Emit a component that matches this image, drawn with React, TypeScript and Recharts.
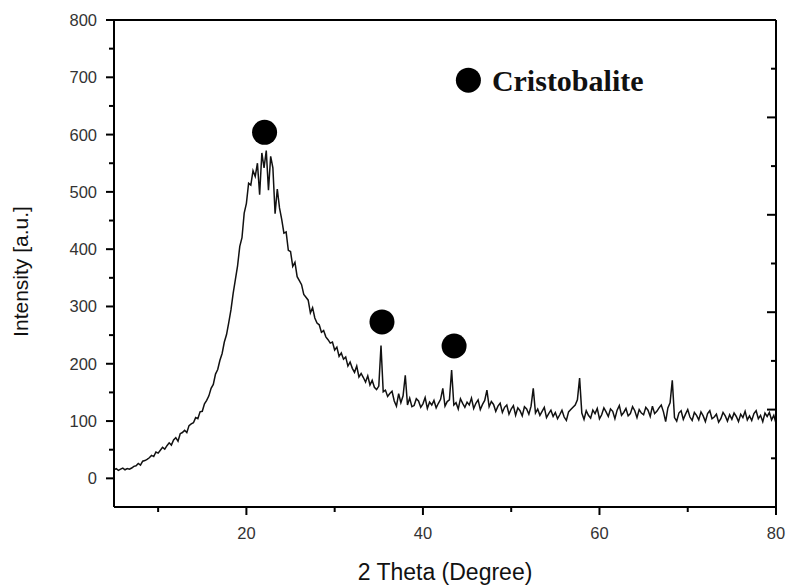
import {
  ComposedChart,
  Line,
  Scatter,
  XAxis,
  YAxis,
  ReferenceDot,
} from "recharts";

// XRD scan, 5–80° 2θ, every 0.25°
const thetaStart = 5;
const thetaStep = 0.25;
const intensity = [
  15, 17, 14, 16, 18, 15, 17, 16,
  18, 21, 22, 26, 23, 30, 31, 33,
  36, 40, 38, 46, 44, 49, 54, 51,
  57, 62, 58, 67, 71, 65, 78, 80,
  84, 80, 92, 95, 97, 106, 104, 116,
  117, 130, 136, 144, 157, 164, 182, 190,
  206, 218, 238, 251, 272, 294, 323, 347,
  371, 405, 420, 463, 480, 515, 512, 537,
  527, 550, 495, 568, 542, 572, 503, 562,
  542, 462, 505, 472, 452, 428, 430, 398,
  396, 370, 377, 352, 345, 338, 321, 316,
  311, 289, 298, 280, 271, 268, 255, 258,
  247, 242, 236, 238, 224, 229, 213, 219,
  208, 212, 196, 203, 192, 185, 196, 177,
  183, 176, 168, 179, 163, 171, 159, 155,
  161, 232, 151, 154, 143, 148, 152, 135,
  126, 148, 132, 144, 180, 128, 140, 125,
  127, 139, 135, 124, 130, 141, 122, 133,
  128, 136, 123, 131, 138, 157, 126, 134,
  137, 189, 128, 132, 121, 139, 131, 124,
  133, 128, 140, 122, 131, 137, 120, 129,
  136, 154, 125, 134, 129, 117, 126, 131,
  115, 124, 128, 112, 121, 127, 110, 123,
  118, 109, 125, 121, 112, 126, 157, 114,
  121, 110, 117, 124, 106, 113, 119, 108,
  115, 104, 111, 119, 107, 101, 116, 120,
  124, 128, 137, 175, 114, 103, 118, 110,
  105, 119, 113, 122, 104, 111, 123, 116,
  108, 121, 117, 104, 119, 127, 110, 115,
  122, 109, 113, 125, 118, 106, 120, 114,
  111, 124, 119, 108, 126, 113, 117, 123,
  128, 116, 99, 123, 132, 171, 106, 100,
  114, 118, 103, 112, 120, 107, 101, 115,
  110, 102, 116, 109, 99, 113, 118, 104,
  107, 112, 98, 104, 115, 109, 100, 111,
  103, 114, 108, 99, 112, 106, 117, 102,
  109, 101, 113, 118, 104, 110, 99, 114,
  108, 115, 102, 110, 96,
];

// cristobalite peak markers
const markerTheta = [22.06, 35.36, 43.53];
const markerIntensity = [604, 273, 231];
const legendTheta = 45.15;
const legendIntensity = 695;
const legendLabel = "Cristobalite";

const xBottomTicks = [10, 20, 30, 40, 50, 60, 70, 80];
const xTopTicks = [5, 12.5, 20, 27.5, 35, 42.5, 50, 57.5, 65, 72.5, 80];
const yLeftTicks = [0, 50, 100, 150, 200, 250, 300, 350, 400, 450, 500, 550, 600, 650, 700, 750, 800];
const yRightTicks = [-50, 35, 120, 205, 290, 375, 460, 545, 630, 715, 800];

const trace = intensity.map((v, i) => ({ x: thetaStart + i * thetaStep, y: v }));
const markers = markerTheta.map((t, i) => ({ x: t, y: markerIntensity[i] }));

const AXIS = "#000";
const LABEL_FONT = "'Liberation Sans', Arial, sans-serif";
const TICK_FILL = "#333";

// eslint-disable-next-line @typescript-eslint/no-explicit-any
function LeftTick({ x, y, payload }: any) {
  const major = payload.value % 100 === 0;
  return (
    <g>
      <line x1={x - (major ? 8 : 5)} x2={x} y1={y} y2={y} stroke={AXIS} strokeWidth={2} />
      {major && (
        <text x={x - 17} y={y} dy="0.36em" textAnchor="end" fontSize={16.5} fontFamily={LABEL_FONT} fill={TICK_FILL}>
          {payload.value}
        </text>
      )}
    </g>
  );
}

// eslint-disable-next-line @typescript-eslint/no-explicit-any
function BottomTick({ x, y, payload }: any) {
  const major = payload.value % 20 === 0;
  return (
    <g>
      <line x1={x} x2={x} y1={y} y2={y + (major ? 8 : 5)} stroke={AXIS} strokeWidth={2} />
      {major && (
        <text x={x} y={y + 32} textAnchor="middle" fontSize={16.5} fontFamily={LABEL_FONT} fill={TICK_FILL}>
          {payload.value}
        </text>
      )}
    </g>
  );
}

// eslint-disable-next-line @typescript-eslint/no-explicit-any
function TopTick({ x, y, payload }: any) {
  const major = (payload.value - 5) % 15 === 0;
  return <line x1={x} x2={x} y1={y} y2={y + (major ? 8 : 5)} stroke={AXIS} strokeWidth={2} />;
}

// eslint-disable-next-line @typescript-eslint/no-explicit-any
function RightTick({ x, y, payload }: any) {
  const major = (payload.value + 50) % 170 === 0;
  return <line x1={x - (major ? 9 : 5)} x2={x} y1={y} y2={y} stroke={AXIS} strokeWidth={2} />;
}

// eslint-disable-next-line @typescript-eslint/no-explicit-any
function XTitle({ viewBox }: any) {
  return (
    <text x={viewBox.x + viewBox.width / 2} y={viewBox.y + 73} textAnchor="middle" fontSize={23} fontFamily={LABEL_FONT} fill="#111">
      2 Theta (Degree)
    </text>
  );
}

// eslint-disable-next-line @typescript-eslint/no-explicit-any
function YTitle({ viewBox }: any) {
  const cx = viewBox.x + 28;
  const cy = viewBox.y + viewBox.height / 2 + 8;
  return (
    <text x={cx} y={cy} transform={`rotate(-90 ${cx} ${cy})`} textAnchor="middle" fontSize={21} fontFamily={LABEL_FONT} fill="#111">
      Intensity [a.u.]
    </text>
  );
}

export default function App() {
  return (
    <div style={{ position: "absolute", left: 0, top: 0, background: "#fff" }}>
      <ComposedChart width={788} height={585} margin={{ top: 0, right: 0, bottom: 0, left: 0 }}>
        <XAxis
          xAxisId="bottom"
          type="number"
          dataKey="x"
          domain={[5, 80]}
          allowDataOverflow
          ticks={xBottomTicks}
          interval={0}
          height={78}
          tickSize={0}
          tickMargin={0}
          tickLine={false}
          tick={<BottomTick />}
          axisLine={{ stroke: AXIS, strokeWidth: 2 }}
          label={<XTitle />}
        />
        <XAxis
          xAxisId="top"
          orientation="top"
          type="number"
          domain={[5, 80]}
          allowDataOverflow
          ticks={xTopTicks}
          interval={0}
          height={20}
          tickSize={0}
          tickMargin={0}
          tickLine={false}
          tick={<TopTick />}
          axisLine={{ stroke: AXIS, strokeWidth: 2 }}
        />
        <YAxis
          yAxisId="left"
          type="number"
          dataKey="y"
          domain={[-50, 800]}
          allowDataOverflow
          ticks={yLeftTicks}
          interval={0}
          width={114}
          tickSize={0}
          tickMargin={0}
          tickLine={false}
          tick={<LeftTick />}
          axisLine={{ stroke: AXIS, strokeWidth: 2 }}
          label={<YTitle />}
        />
        <YAxis
          yAxisId="right"
          orientation="right"
          type="number"
          domain={[-50, 800]}
          allowDataOverflow
          ticks={yRightTicks}
          interval={0}
          width={12}
          tickSize={0}
          tickMargin={0}
          tickLine={false}
          tick={<RightTick />}
          axisLine={{ stroke: AXIS, strokeWidth: 2 }}
        />
        <Line
          data={trace}
          xAxisId="bottom"
          yAxisId="left"
          dataKey="y"
          type="linear"
          stroke="#111"
          strokeWidth={1.5}
          dot={false}
          isAnimationActive={false}
        />
        <Scatter
          data={markers}
          xAxisId="bottom"
          yAxisId="left"
          dataKey="y"
          fill="#000"
          // eslint-disable-next-line @typescript-eslint/no-explicit-any
          shape={(p: any) => <circle cx={p.cx} cy={p.cy} r={12.5} fill="#000" />}
          isAnimationActive={false}
        />
        <ReferenceDot
          xAxisId="bottom"
          yAxisId="left"
          x={legendTheta}
          y={legendIntensity}
          r={12.5}
          fill="#000"
          stroke="none"
          label={{
            value: legendLabel,
            position: "right",
            offset: 11,
            fontSize: 30,
            fontWeight: 700,
            fontFamily: "'Liberation Serif', 'Times New Roman', serif",
            fill: "#111",
          }}
        />
      </ComposedChart>
    </div>
  );
}
